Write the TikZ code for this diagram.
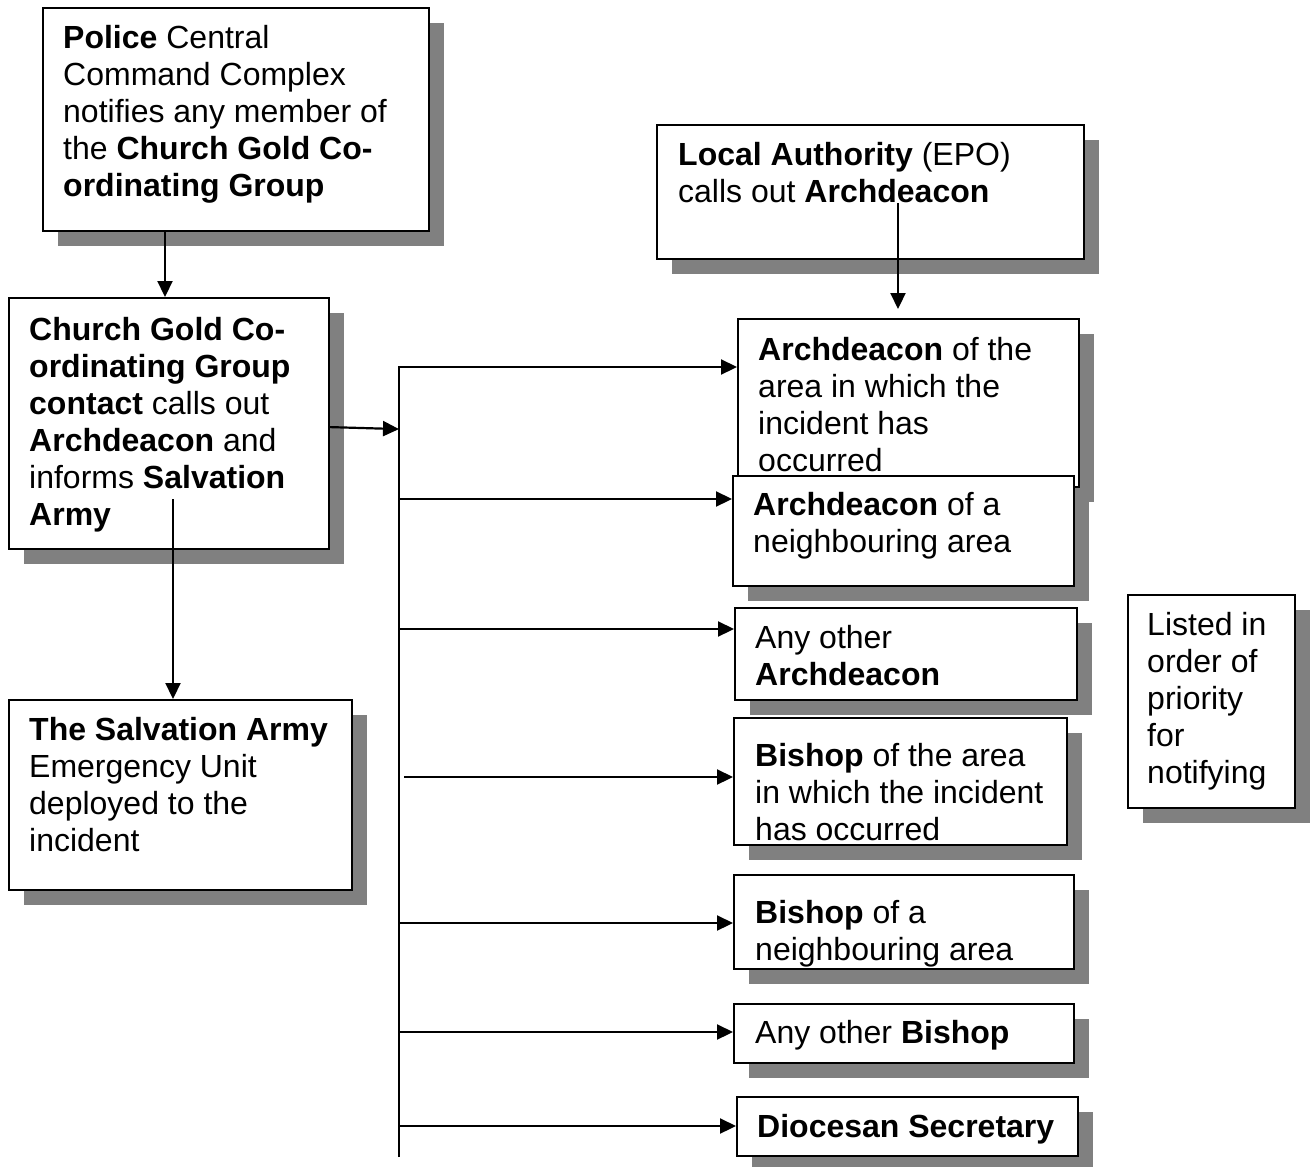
\documentclass[tikz,border=0pt]{standalone}
\usepackage{fontspec}
\setmainfont{Liberation Sans}
\usetikzlibrary{arrows.meta}
\definecolor{shadowgray}{RGB}{128,128,128}
\newcommand{\boxtext}[1]{\begin{tabular}{@{}l@{}}#1\end{tabular}}
\newcommand{\shbox}[5]{%
  \fill[shadow] (#2,#3) ++(16,16) rectangle ++(#4,#5);
  \node[box, minimum width=#4pt, minimum height=#5pt] (#1) at (#2,#3) {};}
\begin{document}
\begin{tikzpicture}[x=1pt,y=-1pt,
  box/.style={draw=black, line width=2.2pt, fill=white, inner sep=0pt, anchor=north west},
  txt/.style={inner sep=0pt, anchor=north west, font=\fontsize{32}{37}\selectfont},
  shadow/.style={fill=shadowgray},
  arr/.style={line width=2.2pt, -{Triangle[length=16pt,width=15pt]}}]
\useasboundingbox (0,0) rectangle (1312,1167);

% boxes with shadows
\shbox{police}{42}{7}{386}{223}
\shbox{local}{656}{124}{427}{134}
\shbox{gold}{8}{297}{320}{251}
\shbox{salv}{8}{699}{343}{190}
\shbox{archA}{737}{318}{341}{168}
\shbox{archN}{732}{475}{341}{110}
\shbox{archO}{734}{607}{342}{92}
\shbox{bishA}{733}{717}{333}{127}
\shbox{bishN}{733}{874}{340}{94}
\shbox{bishO}{733}{1003}{340}{59}
\shbox{dioc}{736}{1096}{341}{59}
\shbox{listed}{1127}{594}{167}{213}

% texts
\node[txt] (police-t) at (63,22) {\boxtext{\textbf{Police} Central\\ Command Complex\\ notifies any member of\\ the \textbf{Church Gold Co-}\\ \textbf{ordinating Group}}};
\node[txt] (local-t) at (678,139) {\boxtext{\textbf{Local Authority} (EPO)\\ calls out \textbf{Archdeacon}}};
\node[txt] (gold-t) at (29,314) {\boxtext{\textbf{Church Gold Co-}\\ \textbf{ordinating Group}\\ \textbf{contact} calls out\\ \textbf{Archdeacon} and\\ informs \textbf{Salvation}\\ \textbf{Army}}};
\node[txt] (salv-t) at (29,714) {\boxtext{\textbf{The Salvation Army}\\ Emergency Unit\\ deployed to the\\ incident}};
\node[txt] (archA-t) at (758,334) {\boxtext{\textbf{Archdeacon} of the\\ area in which the\\ incident has\\ occurred}};
\node[txt] (archN-t) at (753,489) {\boxtext{\textbf{Archdeacon} of a\\ neighbouring area}};
\node[txt] (archO-t) at (755,622) {\boxtext{Any other\\ \textbf{Archdeacon}}};
\node[txt] (bishA-t) at (755,740) {\boxtext{\textbf{Bishop} of the area\\ in which the incident\\ has occurred}};
\node[txt] (bishN-t) at (755,897) {\boxtext{\textbf{Bishop} of a\\ neighbouring area}};
\node[txt] (bishO-t) at (755,1017) {\boxtext{Any other \textbf{Bishop}}};
\node[txt] (dioc-t) at (757,1111) {\boxtext{\textbf{Diocesan Secretary}}};
\node[txt] (listed-t) at (1147,609) {\boxtext{Listed in\\ order of\\ priority\\ for\\ notifying}};

% connectors
\coordinate (pgx) at (165,0);
\draw[arr] (police.south -| pgx) -- (gold.north -| pgx);

\coordinate (la1) at (898,203);
\coordinate (la2) at (898,309);
\draw[arr] (la1) -- (la2);

\coordinate (gs) at (173,499);
\draw[arr] (gs) -- (gs |- salv.north);

\coordinate (bustop) at (399,367);
\coordinate (busbot) at (399,1157);
\draw[arr] ([yshift=-3.5pt]gold.east) -- ([yshift=-5.5pt]gold.east -| bustop);
\draw[arr] (busbot) -- (bustop) -- (bustop -| archA.west);

\coordinate (b2) at (399,499);
\coordinate (b3) at (399,629);
\coordinate (b4) at (404,777);
\coordinate (b5) at (399,923);
\coordinate (b6) at (399,1032);
\coordinate (b7) at (399,1126);
\draw[arr] (b2) -- (b2 -| archN.west);
\draw[arr] (b3) -- (b3 -| archO.west);
\draw[arr] (b4) -- (b4 -| bishA.west);
\draw[arr] (b5) -- (b5 -| bishN.west);
\draw[arr] (b6) -- (b6 -| bishO.west);
\draw[arr] (b7) -- (b7 -| dioc.west);
\end{tikzpicture}
\end{document}
